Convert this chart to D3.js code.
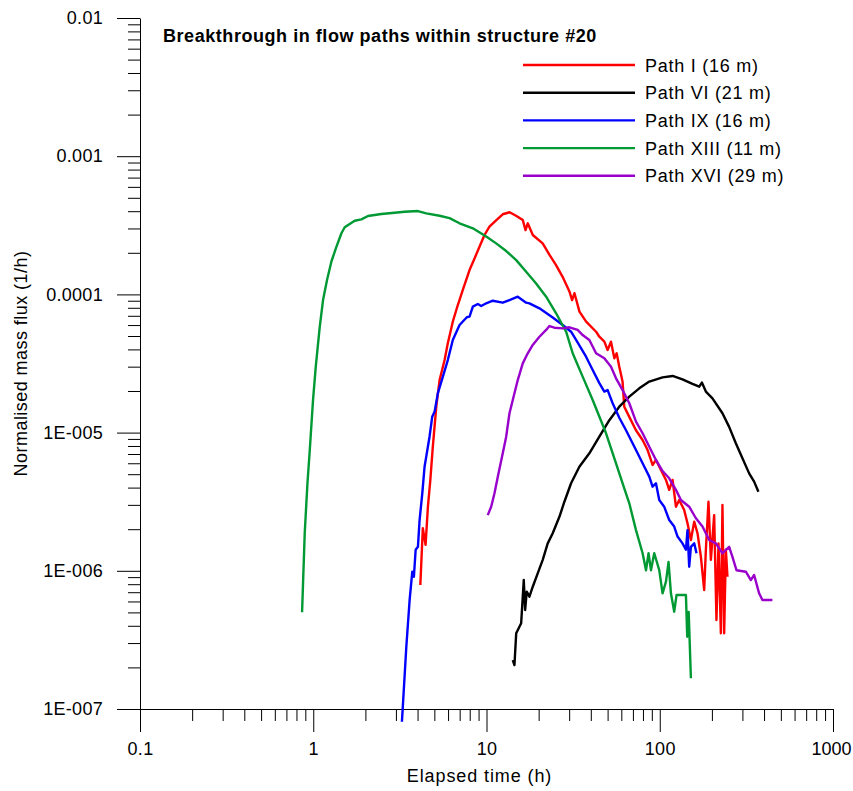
<!DOCTYPE html>
<html>
<head>
<meta charset="utf-8">
<script src="https://cdn.jsdelivr.net/npm/d3@7"></script>
<style>
  body { margin: 0; background: #fff; }
  svg { display: block; }
  text { font-family: "Liberation Sans", Arial, sans-serif; fill: #000; }
</style>
</head>
<body>
<svg id="chart" width="853" height="791"></svg>
<script>
// Breakthrough curves: [elapsed time (h), normalised mass flux (1/h)]
const seriesNames = ["Path I (16 m)", "Path VI (21 m)", "Path IX (16 m)", "Path XIII (11 m)", "Path XVI (29 m)"];
const seriesColors = ["#ff0000", "#000000", "#0000ff", "#009933", "#9900cc"];

const pathI = [
  [4.15,7.9e-7],[4.29,2.03e-6],[4.45,1.54e-6],[4.59,2.91e-6],[4.74,4.54e-6],[4.90,7.91e-6],
  [5.13,1.54e-5],[5.36,2.40e-5],[5.73,3.35e-5],[5.98,4.43e-5],[6.39,6.35e-5],[6.83,8.38e-5],
  [7.30,1.08e-4],[7.98,1.50e-4],[8.53,1.82e-4],[9.11,2.21e-4],[9.74,2.69e-4],[10.4,3.09e-4],
  [11.4,3.45e-4],[12.4,3.80e-4],[13.6,3.93e-4],[14.8,3.71e-4],[16.2,3.45e-4],[16.8,2.92e-4],
  [17.3,3.27e-4],[18.5,2.69e-4],[21.1,2.34e-4],[23.1,1.93e-4],[25.2,1.63e-4],[27.5,1.34e-4],
  [30.1,1.05e-4],[31.2,9.10e-5],[32.2,1.02e-4],[34.4,7.50e-5],[37.6,6.35e-5],[42.9,5.37e-5],
  [44.8,4.94e-5],[47.9,4.55e-5],[50.0,3.96e-5],[52.3,4.55e-5],[54.7,3.45e-5],[56.4,3.75e-5],
  [58.4,3.00e-5],[61.0,2.34e-5],[62.4,1.54e-5],[66.7,1.30e-5],[72.9,1.04e-5],[79.6,8.84e-6],
  [85.1,7.48e-6],[90.9,5.83e-6],[95.1,6.34e-6],[101.6,5.36e-6],[108.6,4.54e-6],[113.4,3.85e-6],
  [118.6,4.54e-6],[124,2.91e-6],[129.5,3.25e-6],[138.4,2.75e-6],[144.6,2.21e-6],[151.3,1.67e-6],
  [158.1,2.27e-6],[165.2,1.87e-6],[172.8,1.26e-6],[180.5,7.26e-7],[184.6,1.42e-6],[191.1,3.16e-6],
  [197.3,1.20e-6],[206.1,2.53e-6],[212.5,4.41e-7],[218.3,1.58e-6],[225.3,3.53e-7],[230.1,2.99e-6],
  [235.4,3.53e-7],[240.8,1.42e-6],[245.9,9.06e-7]
];

const pathVI = [
  [14.18,2.26e-7],[14.50,2.08e-7],[14.84,3.53e-7],[15.85,4.17e-7],[16.41,8.57e-7],[16.71,5.20e-7],
  [17.07,7.06e-7],[17.69,6.50e-7],[18.49,7.67e-7],[19.75,9.59e-7],[21.11,1.20e-6],[22.56,1.58e-6],
  [24.11,1.87e-6],[26.35,2.46e-6],[28.16,3.16e-6],[30.77,4.30e-6],[34.36,5.66e-6],[39.24,7.08e-6],
  [44.81,9.34e-6],[51.17,1.23e-5],[58.42,1.54e-5],[66.72,1.82e-5],[76.19,2.09e-5],[87.01,2.34e-5],
  [103.8,2.51e-5],[118.6,2.57e-5],[135.3,2.43e-5],[154.5,2.25e-5],[169.0,2.15e-5],[175.1,2.30e-5],
  [184.6,1.98e-5],[201.5,1.77e-5],[230.1,1.38e-5],[251.5,1.10e-5],[274.9,8.37e-6],[300.1,6.52e-6],
  [328.1,5.07e-6],[350.5,4.42e-6],[371.1,3.73e-6]
];

const pathIX = [
  [3.25,8.09e-8],[3.445,2.82e-7],[3.60,6.15e-7],[3.73,9.85e-7],[3.81,9.06e-7],[3.90,1.42e-6],
  [4.02,1.49e-6],[4.11,2.33e-6],[4.26,3.64e-6],[4.39,5.66e-6],[4.49,6.70e-6],[4.69,9.34e-6],
  [4.86,1.30e-5],[5.02,1.42e-5],[5.24,1.93e-5],[5.60,2.54e-5],[5.98,3.35e-5],[6.39,4.68e-5],
  [6.99,6.01e-5],[7.70,6.83e-5],[7.98,6.90e-5],[8.34,8.15e-5],[8.91,8.52e-5],[9.32,8.24e-5],
  [9.96,8.62e-5],[10.87,9.00e-5],[12.41,8.71e-5],[13.57,9.10e-5],[15.15,9.63e-5],[16.94,8.71e-5],
  [17.69,8.62e-5],[20.21,7.93e-5],[24.11,6.81e-5],[27.54,6.01e-5],[30.77,5.37e-5],[32.89,4.68e-5],
  [37.55,3.54e-5],[41.01,2.84e-5],[44.81,2.28e-5],[47.87,1.98e-5],[50.02,2.03e-5],[53.46,1.63e-5],
  [58.42,1.28e-5],[63.87,1.04e-5],[66.72,9.34e-6],[72.92,7.48e-6],[79.62,6.00e-6],[87.01,4.80e-6],
  [90.89,4.06e-6],[95.08,4.30e-6],[99.34,3.25e-6],[106.1,2.91e-6],[113.4,2.33e-6],[121.2,2.09e-6],
  [126.7,1.77e-6],[135.3,1.58e-6],[141.6,1.42e-6],[144.6,1.97e-6],[147.9,1.07e-6],[151.3,1.49e-6],
  [158.1,1.58e-6],[163.0,1.34e-6]
];

const pathXIII = [
  [0.862,5.01e-7],[0.893,1.88e-6],[0.926,4.32e-6],[0.955,7.48e-6],[0.997,1.72e-5],[1.034,3.00e-5],
  [1.090,5.83e-5],[1.139,9.10e-5],[1.201,1.27e-4],[1.273,1.73e-4],[1.360,2.21e-4],[1.454,2.77e-4],
  [1.519,3.06e-4],[1.623,3.23e-4],[1.735,3.41e-4],[1.896,3.49e-4],[2.070,3.69e-4],[2.472,3.82e-4],
  [2.950,3.90e-4],[3.369,3.96e-4],[4.018,4.01e-4],[4.492,3.86e-4],[5.358,3.71e-4],[6.118,3.56e-4],
  [6.988,3.27e-4],[8.34,3.01e-4],[9.96,2.62e-4],[11.37,2.34e-4],[12.99,2.06e-4],[14.84,1.77e-4],
  [16.94,1.46e-4],[19.34,1.20e-4],[22.09,9.63e-5],[25.22,7.30e-5],[28.81,5.37e-5],[31.44,3.75e-5],
  [35.89,2.54e-5],[41.01,1.72e-5],[48.98,9.89e-6],[55.93,6.00e-6],[61.04,4.30e-6],[66.72,3.08e-6],
  [72.92,1.97e-6],[79.62,1.34e-6],[83.29,1.01e-6],[86.16,1.34e-6],[88.96,1.01e-6],[92.96,1.34e-6],
  [99.34,1.01e-6],[103.8,6.87e-7],[108.6,8.34e-7],[112.4,1.16e-6],[116.0,6.87e-7],[121.2,5.06e-7],
  [125.0,6.68e-7],[141.6,6.68e-7],[144.1,3.33e-7],[146.9,5.04e-7],[151.3,1.67e-7]
];

const pathXVI = [
  [10.17,2.53e-6],[10.64,2.91e-6],[11.12,3.64e-6],[11.62,4.80e-6],[12.41,7.08e-6],[12.99,9.34e-6],
  [13.57,1.38e-5],[14.18,1.72e-5],[15.15,2.40e-5],[16.19,3.17e-5],[17.30,3.75e-5],[18.49,4.31e-5],
  [20.21,4.94e-5],[22.09,5.53e-5],[23.07,5.90e-5],[24.65,5.74e-5],[27.54,5.68e-5],[30.09,5.78e-5],
  [33.59,5.53e-5],[35.89,5.08e-5],[39.24,4.68e-5],[42.89,3.75e-5],[47.87,3.45e-5],[52.32,3.00e-5],
  [55.93,2.47e-5],[61.04,2.03e-5],[66.72,1.63e-5],[72.92,1.20e-5],[79.62,9.89e-6],[87.01,7.91e-6],
  [95.08,6.34e-6],[103.8,5.27e-6],[113.4,4.67e-6],[124.0,3.85e-6],[132.5,3.25e-6],[147.9,2.91e-6],
  [161.7,2.40e-6],[176.5,2.09e-6],[192.9,1.67e-6],[210.9,1.58e-6],[230.1,1.34e-6],[251.5,1.49e-6],
  [262.8,1.26e-6],[277.2,1.01e-6],[314.0,9.85e-7],[335.5,8.57e-7],[350.5,9.33e-7],[374.6,6.87e-7],
  [391.3,6.15e-7],[446.8,6.15e-7]
];

const seriesData = [pathI, pathVI, pathIX, pathXIII, pathXVI];

// Axis ticks
const xTickValues = [0.1, 1, 10, 100, 1000];
const xTickLabels = ["0.1", "1", "10", "100", "1000"];
const yTickValues = [1e-7, 1e-6, 1e-5, 1e-4, 1e-3, 1e-2];
const yTickLabels = ["1E-007", "1E-006", "1E-005", "0.0001", "0.001", "0.01"];

const titleText = "Breakthrough in flow paths within structure #20";
const xTitle = "Elapsed time (h)";
const yTitle = "Normalised mass flux (1/h)";

// Layout
const plot = { left: 140, right: 833, top: 18, bottom: 709 };
const svg = d3.select("#chart");

const x = d3.scaleLog().domain([0.1, 1000]).range([plot.left, plot.right]);
const y = d3.scaleLog().domain([1e-7, 1e-2]).range([plot.bottom, plot.top]);

// minor ticks at 2..9 within each decade
const minorOf = majors => majors.slice(0, -1).flatMap(d => d3.range(2, 10).map(m => d * m));
const xMinor = minorOf(xTickValues);
const yMinor = minorOf(yTickValues);

function styleAxis(g) {
  g.selectAll("line").attr("stroke", "#000").attr("stroke-width", 1);
  g.selectAll("path").attr("stroke", "#000").attr("stroke-width", 1);
  g.selectAll("text")
    .attr("font-family", "'Liberation Sans', Arial, sans-serif")
    .attr("font-size", 18)
    .attr("letter-spacing", 0.3)
    .attr("fill", "#000");
}

// x axis
svg.append("g")
  .attr("transform", `translate(0,${plot.bottom})`)
  .call(d3.axisBottom(x).tickValues(xMinor).tickSize(12).tickFormat(""))
  .call(g => g.select(".domain").remove())
  .call(styleAxis);
svg.append("g")
  .attr("transform", `translate(0,${plot.bottom})`)
  .call(d3.axisBottom(x).tickValues(xTickValues).tickSize(23).tickSizeOuter(0).tickPadding(10)
    .tickFormat((d, i) => xTickLabels[i]))
  .call(styleAxis)
  .call(g => g.selectAll(".tick text").filter((d, i, n) => i === n.length - 1)
    .attr("letter-spacing", 0).attr("dx", -2));

// y axis
svg.append("g")
  .attr("transform", `translate(${plot.left},0)`)
  .call(d3.axisLeft(y).tickValues(yMinor).tickSize(12).tickFormat(""))
  .call(g => g.select(".domain").remove())
  .call(styleAxis);
svg.append("g")
  .attr("transform", `translate(${plot.left},0)`)
  .call(d3.axisLeft(y).tickValues(yTickValues).tickSize(23).tickSizeOuter(0).tickPadding(14)
    .tickFormat((d, i) => yTickLabels[i]))
  .call(styleAxis);

// axis titles
svg.append("text")
  .attr("x", (plot.left + plot.right) / 2 - 7)
  .attr("y", 782)
  .attr("text-anchor", "middle")
  .attr("font-size", 18)
  .attr("letter-spacing", 0.9)
  .text(xTitle);

svg.append("text")
  .attr("transform", `translate(27,${(plot.top + plot.bottom) / 2}) rotate(-90)`)
  .attr("text-anchor", "middle")
  .attr("font-size", 18)
  .attr("letter-spacing", 0.45)
  .text(yTitle);

// chart title
svg.append("text")
  .attr("x", 163)
  .attr("y", 42)
  .attr("font-size", 18)
  .attr("font-weight", "bold")
  .attr("letter-spacing", 0.55)
  .text(titleText);

// curves
const line = d3.line().x(d => x(d[0])).y(d => y(d[1]));
svg.append("g")
  .selectAll("path")
  .data(seriesData)
  .join("path")
  .attr("d", line)
  .attr("fill", "none")
  .attr("stroke", (d, i) => seriesColors[i])
  .attr("stroke-width", 2.4)
  .attr("stroke-linejoin", "round");

// legend
const legend = svg.append("g");
const rowY = i => 65 + i * 27.7;
legend.selectAll("line")
  .data(seriesNames)
  .join("line")
  .attr("x1", 523).attr("x2", 635)
  .attr("y1", (d, i) => rowY(i)).attr("y2", (d, i) => rowY(i))
  .attr("stroke", (d, i) => seriesColors[i])
  .attr("stroke-width", 2.4);
legend.selectAll("text")
  .data(seriesNames)
  .join("text")
  .attr("x", 645)
  .attr("y", (d, i) => rowY(i) + 6.5)
  .attr("font-size", 18)
  .attr("letter-spacing", 0.75)
  .text(d => d);
</script>
</body>
</html>
